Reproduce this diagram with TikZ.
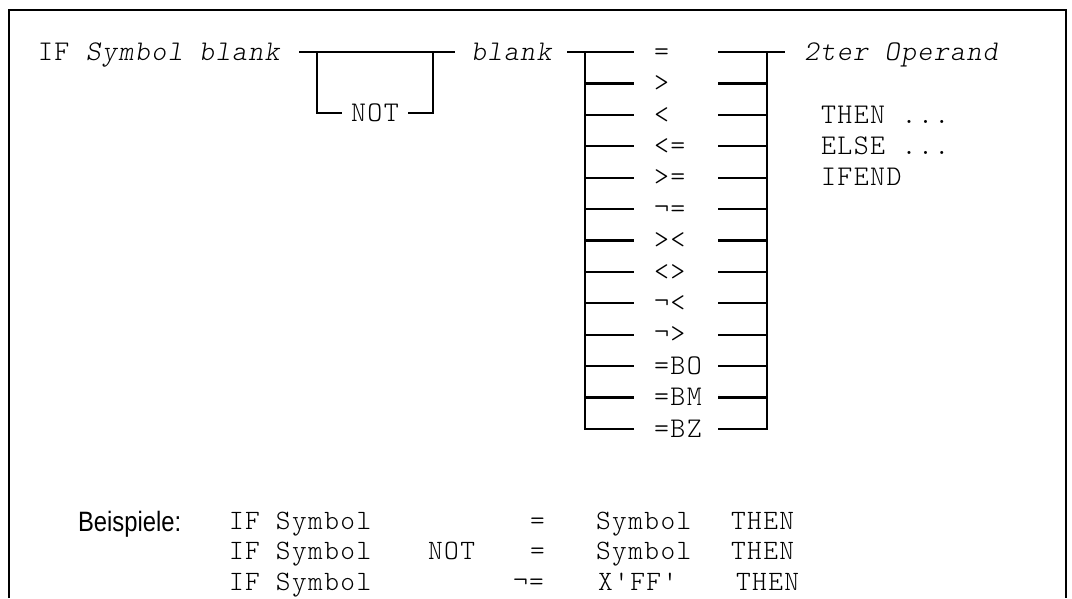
\documentclass[tikz,border=0pt]{standalone}
\usepackage{fontspec}
\setmainfont{Liberation Sans}
\setmonofont{lmmonolt10-regular}[Extension=.otf, ItalicFont=lmmonolt10-oblique, LetterSpace=5]
\usetikzlibrary{positioning,calc}

\begin{document}
\begin{tikzpicture}[
  x=1pt, y=-1pt,
  line width=2.2pt,
  mono/.style={font=\ttfamily\fontsize{28.5}{30}\selectfont, inner sep=0pt, anchor=west, text height=16.5pt, text depth=0pt},
  monoit/.style={mono, font=\ttfamily\itshape\fontsize{28.5}{30}\selectfont},
  example/.style={mono, font=\ttfamily\fontsize{28}{30}\selectfont},
  caption/.style={font=\fontsize{28}{30}\selectfont, inner sep=0pt, anchor=west, text height=20pt, text depth=0pt}
]
  \useasboundingbox (0,0) rectangle (1072,598);
  % frame, open at the bottom
  \draw (9,598) -- (9,10) -- (1066,10) -- (1066,598);

  % first operand and the optional NOT
  \node[mono] (kwif) at (37,52) {IF \textit{Symbol blank}};
  \node[monoit] (blank) at (470,52) {blank};
  \node[mono, anchor=center, inner xsep=8pt] (notbr) at (375,113) {NOT};
  \coordinate (m1) at (299,52);
  \coordinate (m2) at (455,52);
  \coordinate (nl) at (317,52);
  \coordinate (nr) at (433,52);
  \draw (m1) -- (m2);
  \draw (nl) |- (notbr.west);
  \draw (nr) |- (notbr.east);

  % comparison operators
  \foreach \op [count=\i] in {=, >, <, <=, >=, ¬=, ><, <>, ¬<, ¬>, =BO, =BM, =BZ} {
    \node[mono] (op\i) at (653,{52+31.4*(\i-1)}) {\op};
    \coordinate (l\i) at (585,{52+31.4*(\i-1)});
    \coordinate (a\i) at (634,{52+31.4*(\i-1)});
    \coordinate (b\i) at (718,{52+31.4*(\i-1)});
    \coordinate (r\i) at (767,{52+31.4*(\i-1)});
  }
  \coordinate (t1) at (567,52);
  \coordinate (t2) at (785,52);
  \draw (t1) -- (a1);
  \draw (b1) -- (t2);
  \draw (a13) -- (l13) -- (l1);
  \draw (b13) -- (r13) -- (r1);
  \foreach \i in {2,...,12} {
    \draw (l\i) -- (a\i);
    \draw (b\i) -- (r\i);
  }

  % second operand
  \node[monoit] (second) at (803,52) {2ter Operand};
  \node[mono] (kwthen) at (820,{52+31.4*2}) {THEN ...};
  \node[mono] (kwelse) at (820,{52+31.4*3}) {ELSE ...};
  \node[mono] (kwend) at (820,{52+31.4*4}) {IFEND};

  % examples
  \node[caption] (beisp) at (77,521) {\scalebox{0.85}[1]{Beispiele:}};
  \node[example] (ex1a) at (228,521) {IF Symbol};
  \node[example] (ex1b) at (529,521) {=};
  \node[example] (ex1c) at (595,521) {Symbol};
  \node[example] (ex1d) at (730,521) {THEN};
  \node[example] (ex2a) at (228,551) {IF Symbol};
  \node[example] (ex2b) at (427,551) {NOT};
  \node[example] (ex2c) at (529,551) {=};
  \node[example] (ex2d) at (595,551) {Symbol};
  \node[example] (ex2e) at (730,551) {THEN};
  \node[example] (ex3a) at (228,582) {IF Symbol};
  \node[example] (ex3b) at (512,582) {¬=};
  \node[example] (ex3c) at (597,582) {X'FF'};
  \node[example] (ex3d) at (735,582) {THEN};
\end{tikzpicture}
\end{document}
